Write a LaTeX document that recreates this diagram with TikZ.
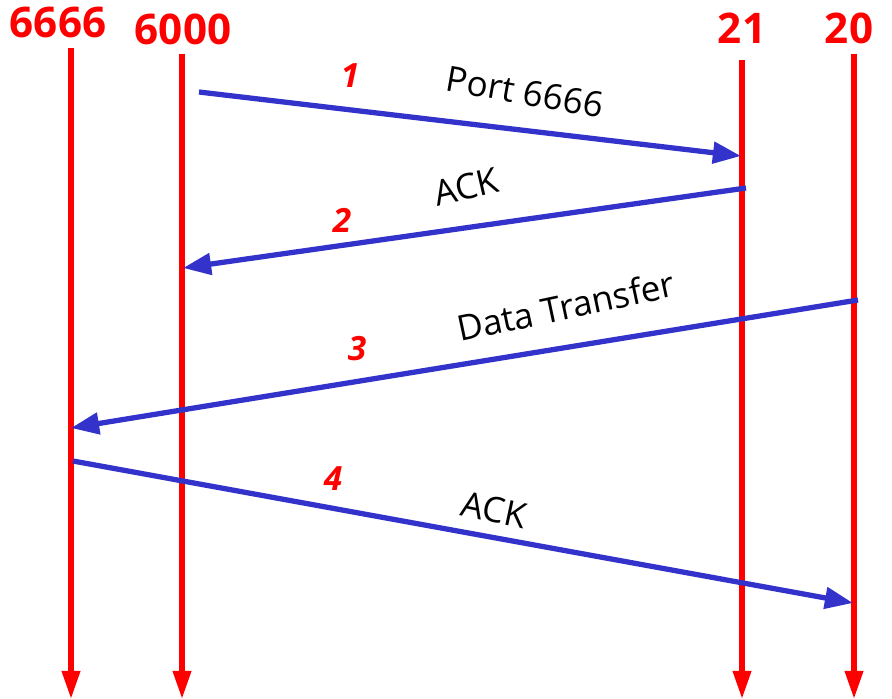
\documentclass[tikz,border=0pt]{standalone}
\usepackage{fontspec}
\setmainfont{Open Sans}
\usetikzlibrary{arrows.meta}
\definecolor{msgblue}{HTML}{3333CC}
\tikzset{%
    port/.style={text=red, font=\fontsize{24}{28}\selectfont\bfseries, inner sep=0pt},
    step label/.style={text=red, font=\fontsize{19}{22}\selectfont\bfseries\itshape, inner sep=0pt},
    msg label/.style={text=black, font=\fontsize{20}{24}\selectfont, inner sep=0pt},
    timeline/.style={draw=red, line width=3pt, -{Triangle[length=16pt, width=10pt]}},
    msg/.style={draw=msgblue, line width=3pt, -{Triangle[length=16pt, width=12pt]}}
}
\begin{document}
\begin{tikzpicture}[x=0.02cm, y=-0.02cm]
  \useasboundingbox (0,0) rectangle (892,699);
  \node (h6666) [port] at (58, 22) {6666};
  \node (h6000) [port] at (183, 29) {6000};
  \node (h21) [port] at (742, 28) {21};
  \node (h20) [port] at (849, 28) {20};

  \coordinate (t6666) at (71, 48);
  \coordinate (b6666) at (71, 699);
  \coordinate (t6000) at (182, 54);
  \coordinate (b6000) at (182, 699);
  \coordinate (t21) at (742, 60);
  \coordinate (b21) at (742, 699);
  \coordinate (t20) at (854, 54);
  \coordinate (b20) at (854, 699);

  \coordinate (m1s) at (199, 92);
  \coordinate (m1e) at (741, 156);
  \coordinate (m2s) at (746, 188);
  \coordinate (m2e) at (183, 268);
  \coordinate (m3s) at (858, 300);
  \coordinate (m3e) at (71, 428);
  \coordinate (m4s) at (73, 461);
  \coordinate (m4e) at (853, 603);

  \node (n1) [step label] at (350, 76) {1};
  \node (l1) [msg label, rotate=-10] at (525, 92) {Port 6666};
  \node (n2) [step label] at (342, 220) {2};
  \node (l2) [msg label, rotate=13] at (466, 187) {ACK};
  \node (n3) [step label] at (357, 349) {3};
  \node (l3) [msg label, rotate=12] at (566, 306) {Data Transfer};
  \node (n4) [step label] at (333, 479) {4};
  \node (l4) [msg label, rotate=-12] at (494, 510) {ACK};

  \draw [timeline] (t6666) -- (b6666);
  \draw [timeline] (t6000) -- (b6000);
  \draw [timeline] (t21) -- (b21);
  \draw [timeline] (t20) -- (b20);

  \draw [msg] (m1s) -- (m1e);
  \draw [msg] (m2s) -- (m2e);
  \draw [msg] (m3s) -- (m3e);
  \draw [msg] (m4s) -- (m4e);
\end{tikzpicture}
\end{document}
